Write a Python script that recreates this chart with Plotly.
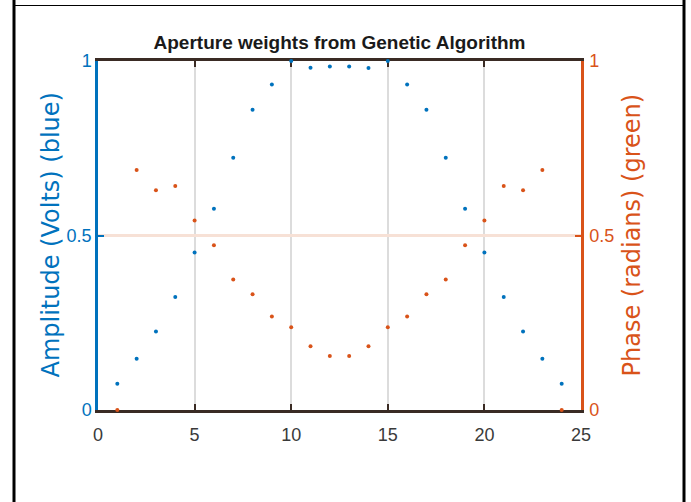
import plotly.graph_objects as go

# ---- data ----
element = list(range(1, 25))
amplitude = [0.075, 0.147, 0.225, 0.324, 0.451, 0.577, 0.723, 0.860, 0.933, 1.0,
             0.981, 0.984, 0.984, 0.980, 1.0, 0.933, 0.860, 0.723, 0.577, 0.451,
             0.324, 0.225, 0.147, 0.075]
phase = [0.0, 0.688, 0.630, 0.642, 0.543, 0.472, 0.374, 0.332, 0.268, 0.237,
         0.183, 0.155, 0.155, 0.183, 0.237, 0.268, 0.332, 0.374, 0.472, 0.543,
         0.642, 0.630, 0.688, 0.0]
x_ticks = [0, 5, 10, 15, 20, 25]
y_ticks = [0, 0.5, 1]
y_ticklabels = ["0", "0.5", "1"]

BLUE = "#0072BD"
ORANGE = "#D95319"
DARK = "#3a2b24"

W, H = 691, 502
L, R, T, B = 98, 110, 61, 92
PW, PH = W - L - R, H - T - B


def px2x(px):
    return (px - L) / PW


def py2y(py):
    return (H - B - py) / PH


SANS = "Liberation Sans, Arial, sans-serif"

fig = go.Figure()
fig.add_trace(go.Scatter(x=element, y=amplitude, mode="markers",
                         marker=dict(color=BLUE, size=4), cliponaxis=False,
                         yaxis="y", showlegend=False))
fig.add_trace(go.Scatter(x=element, y=phase, mode="markers",
                         marker=dict(color=ORANGE, size=4), cliponaxis=False,
                         yaxis="y2", showlegend=False))

fig.update_layout(
    width=W, height=H,
    margin=dict(l=L, r=R, t=T, b=B),
    paper_bgcolor="white", plot_bgcolor="white",
    title=dict(text="<b>Aperture weights from Genetic Algorithm</b>",
               font=dict(family=SANS, size=19, color="#1a1a1a"),
               x=0.5, xref="paper", xanchor="center",
               y=1 - 42 / H, yref="container", yanchor="middle"),
    xaxis=dict(range=[0, 25], tickvals=x_ticks, ticktext=[str(v) for v in x_ticks],
               showgrid=True, gridcolor="#dcdcdc", gridwidth=1.5,
               zeroline=False, showline=True, linecolor=DARK, linewidth=2.5,
               mirror="ticks", ticks="inside", ticklen=6, tickwidth=2,
               tickcolor=DARK, tickfont=dict(family=SANS, size=18, color="#3a3a3a"),
               layer="below traces", ticklabelstandoff=7),
    yaxis=dict(range=[0, 1], tickvals=y_ticks, ticktext=y_ticklabels,
               showgrid=False, zeroline=False, showline=True, linecolor=BLUE,
               linewidth=2.5, ticks="inside", ticklen=6, tickwidth=2, tickcolor=BLUE,
               tickfont=dict(family=SANS, size=18, color=BLUE),
               layer="below traces", ticklabelstandoff=0),
    yaxis2=dict(range=[0, 1], tickvals=y_ticks, ticktext=y_ticklabels,
                overlaying="y", side="right",
                showgrid=True, gridcolor="#f7e1d6", gridwidth=2.5,
                zeroline=False, showline=True, linecolor=ORANGE,
                linewidth=2.5, ticks="inside", ticklen=6, tickwidth=2, tickcolor=ORANGE,
                tickfont=dict(family=SANS, size=18, color=ORANGE),
                layer="below traces", ticklabelstandoff=2),
)

fig.add_annotation(text="Amplitude (Volts) (blue)", textangle=-90,
                   x=px2x(50), y=0.5, xref="paper", yref="paper",
                   xanchor="center", yanchor="middle", showarrow=False,
                   font=dict(family="DejaVu Sans", size=24, color=BLUE))
fig.add_annotation(text="Phase (radians) (green)", textangle=-90,
                   x=px2x(631), y=0.5, xref="paper", yref="paper",
                   xanchor="center", yanchor="middle", showarrow=False,
                   font=dict(family="DejaVu Sans", size=24, color=ORANGE))

# outer frame of the screenshot
frame = [
    (14, 0, 14, H),
    (684, 0, 684, H),
    (14, 5.5, 684, 5.5),
]
for x0, y0, x1, y1 in frame:
    fig.add_shape(type="line", xref="paper", yref="paper",
                  x0=px2x(x0), x1=px2x(x1), y0=py2y(y0), y1=py2y(y1),
                  line=dict(color="black", width=3 if x0 == x1 else 1.2))

fig.write_html("out.html")
